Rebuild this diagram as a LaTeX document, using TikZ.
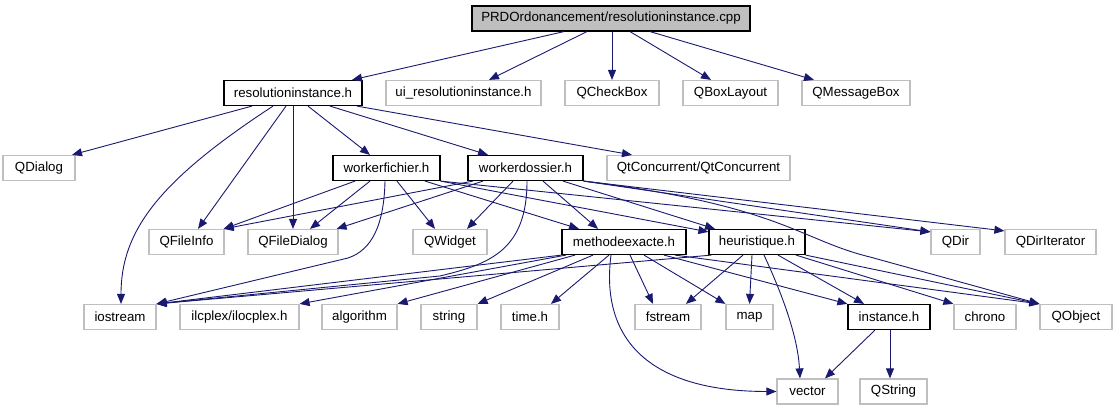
\documentclass[tikz,border=0pt]{standalone}
\usepackage{fontspec}
\setmainfont{Liberation Sans}
\usetikzlibrary{arrows.meta}
\definecolor{edgecol}{HTML}{191970}
\definecolor{boxgray}{HTML}{BFBFBF}
\definecolor{rootfill}{HTML}{BFBFBF}
\newcommand{\dgfont}{\fontsize{13.3}{16}\selectfont}
\tikzset{
  edge/.style={draw=edgecol, line width=0.9pt, -{Triangle[length=10pt,width=8pt]}},
  gbox/.style={draw=boxgray, line width=1.2pt, fill=white, minimum height=25pt, inner sep=0pt, font=\dgfont},
  bbox/.style={gbox, draw=black},
  rootbox/.style={bbox, fill=rootfill}
}
\begin{document}
\begin{tikzpicture}[x=1pt,y=-1pt]
\useasboundingbox (0,0) rectangle (1117,411);
% row 0
\node[rootbox, minimum width=278] (root) at (611,18.5) {PRDOrdonancement/resolutioninstance.cpp};
% row 1
\node[bbox, minimum width=138] (resh) at (293,93) {resolutioninstance.h};
\node[gbox, minimum width=155] (ui) at (463.5,93) {ui\_resolutioninstance.h};
\node[gbox, minimum width=94] (qcb) at (612,93) {QCheckBox};
\node[gbox, minimum width=95] (qbl) at (730.5,93) {QBoxLayout};
\node[gbox, minimum width=108] (qmb) at (856,93) {QMessageBox};
% row 2
\node[gbox, minimum width=72] (qdlg) at (39,168) {QDialog};
\node[bbox, minimum width=107] (wf) at (386.5,168) {workerfichier.h};
\node[bbox, minimum width=115] (wd) at (525.5,168) {workerdossier.h};
\node[gbox, minimum width=183] (qtc) at (698.5,168) {QtConcurrent/QtConcurrent};
% row 3
\node[gbox, minimum width=75] (qfi) at (186.5,242) {QFileInfo};
\node[gbox, minimum width=90] (qfd) at (293,242) {QFileDialog};
\node[gbox, minimum width=74] (qw) at (450,242) {QWidget};
\node[bbox, minimum width=124] (me) at (624,242) {methodeexacte.h};
\node[bbox, minimum width=96] (heur) at (757,242) {heuristique.h};
\node[gbox, minimum width=49] (qdir) at (955.5,242) {QDir};
\node[gbox, minimum width=91] (qdit) at (1050.5,242) {QDirIterator};
% row 4
\node[gbox, minimum width=72] (ios) at (120,317) {iostream};
\node[gbox, minimum width=119] (ilc) at (239.5,317) {ilcplex/ilocplex.h};
\node[gbox, minimum width=75] (alg) at (359.5,317) {algorithm};
\node[gbox, minimum width=56] (str) at (449,317) {string};
\node[gbox, minimum width=58] (tim) at (530,317) {time.h};
\node[gbox, minimum width=66] (fst) at (668,317) {fstream};
\node[gbox, minimum width=47] (map) at (749.5,317) {map};
\node[bbox, minimum width=82] (inst) at (889,317) {instance.h};
\node[gbox, minimum width=62] (chr) at (985,317) {chrono};
\node[gbox, minimum width=72] (qobj) at (1076,317) {QObject};
% row 5
\node[gbox, minimum width=61] (vec) at (807.5,391.5) {vector};
\node[gbox, minimum width=67] (qstr) at (893.5,391.5) {QString};

% edges from root
\draw[edge] ([xshift=-47pt]root.south) -- ([xshift=59pt]resh.north);
\draw[edge] ([xshift=-24pt]root.south) -- ([xshift=25.5pt]ui.north);
\draw[edge] ([xshift=1pt]root.south) -- (qcb.north);
\draw[edge] ([xshift=19pt]root.south) -- ([xshift=-19.5pt]qbl.north);
\draw[edge] ([xshift=39pt]root.south) -- ([xshift=-42pt]qmb.north);
% edges from resolutioninstance.h
\draw[edge] ([xshift=-41pt]resh.south) -- ([xshift=33pt]qdlg.north);
\draw[edge] ([xshift=-20pt]resh.south) .. controls (160,180) and (121,230) .. ([xshift=1pt]ios.north);
\draw[edge] ([xshift=-7pt]resh.south) -- ([xshift=11.5pt]qfi.north);
\draw[edge] (resh.south) -- (qfd.north);
\draw[edge] ([xshift=15pt]resh.south) -- ([xshift=-16.5pt]wf.north);
\draw[edge] ([xshift=37pt]resh.south) -- ([xshift=-37.5pt]wd.north);
\draw[edge] ([xshift=64pt]resh.south) -- ([xshift=-66.5pt]qtc.north);
% edges from workerfichier.h
\draw[edge] ([xshift=-31.5pt]wf.south) -- ([xshift=-1pt]qfi.north east);
\draw[edge] ([xshift=-16.5pt]wf.south) -- ([xshift=17pt]qfd.north);
\draw[edge] ([xshift=-1.5pt]wf.south) .. controls (384,225) and (372,250) .. (348,258) -- (ios.north east);
\draw[edge] ([xshift=10.5pt]wf.south) -- ([xshift=-15pt]qw.north);
\draw[edge] ([xshift=38.5pt]wf.south) -- ([xshift=-45pt]me.north);
\draw[edge] (wf.south east) -- ([yshift=-3pt]heur.north west);
\draw[edge] (wf.south east) -- ([yshift=-3pt]qdir.north west);
% edges from workerdossier.h
\draw[edge] ([xshift=-52.5pt]wd.south) -- ([xshift=-1pt]qfi.north east);
\draw[edge] ([xshift=-42.5pt]wd.south) -- ([xshift=-2pt]qfd.north east);
\draw[edge] ([xshift=-12.5pt]wd.south) -- ([xshift=17pt]qw.north);
\draw[edge] ([xshift=1.5pt]wd.south) .. controls (527,250) and (490,264) .. (440,276) -- (ios.north east);
\draw[edge] ([xshift=17.5pt]wd.south) -- ([xshift=-26pt]me.north);
\draw[edge] ([xshift=37.5pt]wd.south) -- ([xshift=-42pt]heur.north);
\draw[edge] (wd.south east) -- ([yshift=-3pt]qdir.north west);
\draw[edge] (wd.south east) -- ([yshift=-2pt]qdit.north west);
\draw[edge] (wd.south east) .. controls (780,205) and (800,240) .. (870,257) -- (qobj.north west);
% edges from methodeexacte.h
\draw[edge] (me.south west) -- (ios.north east);
\draw[edge] ([xshift=-58pt]me.south) -- (ilc.north east);
\draw[edge] ([xshift=-49pt]me.south) -- (alg.north east);
\draw[edge] ([xshift=-31pt]me.south) -- (str.north east);
\draw[edge] ([xshift=-15pt]me.south) -- ([xshift=21pt]tim.north);
\draw[edge] ([xshift=-13pt]me.south) .. controls (600,340) and (650,391.5) .. (vec.west);
\draw[edge] ([xshift=6pt]me.south) -- ([xshift=-15pt]fst.north);
\draw[edge] ([xshift=20pt]me.south) -- (map.north west);
\draw[edge] ([xshift=40pt]me.south) -- (inst.north west);
\draw[edge] ([xshift=51pt]me.south) -- (qobj.north west);
% edges from heuristique.h
\draw[edge] ([xshift=3pt]heur.south west) -- (ios.north east);
\draw[edge] ([xshift=-14pt]heur.south) -- ([xshift=18pt]fst.north);
\draw[edge] ([xshift=-5pt]heur.south) -- (map.north);
\draw[edge] ([xshift=7pt]heur.south) .. controls (785,300) and (798,340) .. ([xshift=-7.5pt]vec.north);
\draw[edge] ([xshift=21pt]heur.south) -- ([xshift=-25pt]inst.north);
\draw[edge] ([xshift=39pt]heur.south) -- (chr.north west);
\draw[edge] (heur.south east) -- (qobj.north west);
% edges from instance.h
\draw[edge] ([xshift=-14pt]inst.south) -- ([xshift=17.5pt]vec.north);
\draw[edge] ([xshift=1pt]inst.south) -- ([xshift=-3.5pt]qstr.north);
\end{tikzpicture}
\end{document}
